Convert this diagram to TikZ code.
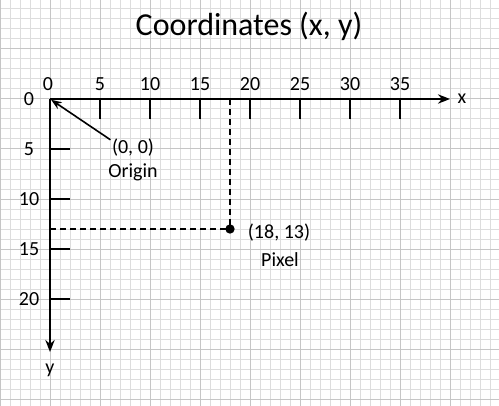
\documentclass[tikz,border=0pt]{standalone}
\usepackage{fontspec}
\setmainfont{Carlito}
\usetikzlibrary{positioning,arrows.meta}
\definecolor{GridL}{HTML}{DDDDDD}
\definecolor{GridD}{HTML}{C6C6C6}

\begin{document}
\begin{tikzpicture}[x=0.75pt,y=-0.75pt,font=\fontsize{15}{17}\selectfont,
  axis/.style={line width=1.6pt,-{Stealth[length=9pt,width=7pt]}},
  tick/.style={line width=1.2pt},
  guide/.style={line width=0.8pt,dash pattern=on 4.5pt off 3pt},
  ptr/.style={line width=1.2pt,-{Stealth[length=8pt,width=6pt]},shorten >=1pt},
  dot/.style={circle,fill=black,inner sep=0pt,minimum size=7pt},
  lbl/.style={inner sep=1pt}]

\useasboundingbox (0,0) rectangle (499,406);
\fill[white] (0,0) rectangle (499,406);

% squared paper
\foreach \i in {0,...,49} \draw[GridL,line width=0.75pt] (10*\i,0) -- (10*\i,406);
\foreach \j in {0,...,39} \draw[GridL,line width=0.75pt] (0,9+10*\j) -- (499,9+10*\j);
\foreach \i in {0,...,9} \draw[GridD,line width=0.75pt] (50*\i,0) -- (50*\i,406);
\foreach \j in {0,...,7} \draw[GridD,line width=0.75pt] (0,49+50*\j) -- (499,49+50*\j);

\node[font=\fontsize{24}{28}\selectfont] (title) at (249,26) {Coordinates (x, y)};

% axes
\coordinate (O) at (50,99);
\coordinate (xtip) at (450,99);
\coordinate (ytip) at (50,352);
\draw[axis] (O) -- (xtip);
\draw[axis] (O) -- (ytip);
\node[lbl] (xname) at (462,99) {x};
\node[lbl] (yname) at (50,370) {y};

\node[lbl] (xt0) at (48,84) {0};
\node[lbl] (yt0) at (29,99) {0};
\foreach \v in {5,10,...,35} {
  \draw[tick] (50+10*\v,99) -- +(0,20);
  \node[lbl] (xt\v) at (50+10*\v,84) {\v};
}
\foreach \v in {5,10,15,20} {
  \draw[tick] (50,99+10*\v) -- +(20,0);
  \node[lbl] (yt\v) at (29,99+10*\v) {\v};
}

% origin
\node[lbl] (orl) at (133,148) {(0, 0)};
\node[lbl] (orn) at (133,172) {Origin};
\draw[ptr] (orl.160) -- (O);

% pixel
\node[dot] (px) at (230,229) {};
\coordinate (pxtop) at (230,99);
\coordinate (pxleft) at (50,229);
\draw[guide] (pxtop) -- (px.center);
\draw[guide] (pxleft) -- (px.center);
\node[lbl] (pxl) at (279,233) {(18, 13)};
\node[lbl] (pxn) at (280,260) {Pixel};

\end{tikzpicture}
\end{document}
